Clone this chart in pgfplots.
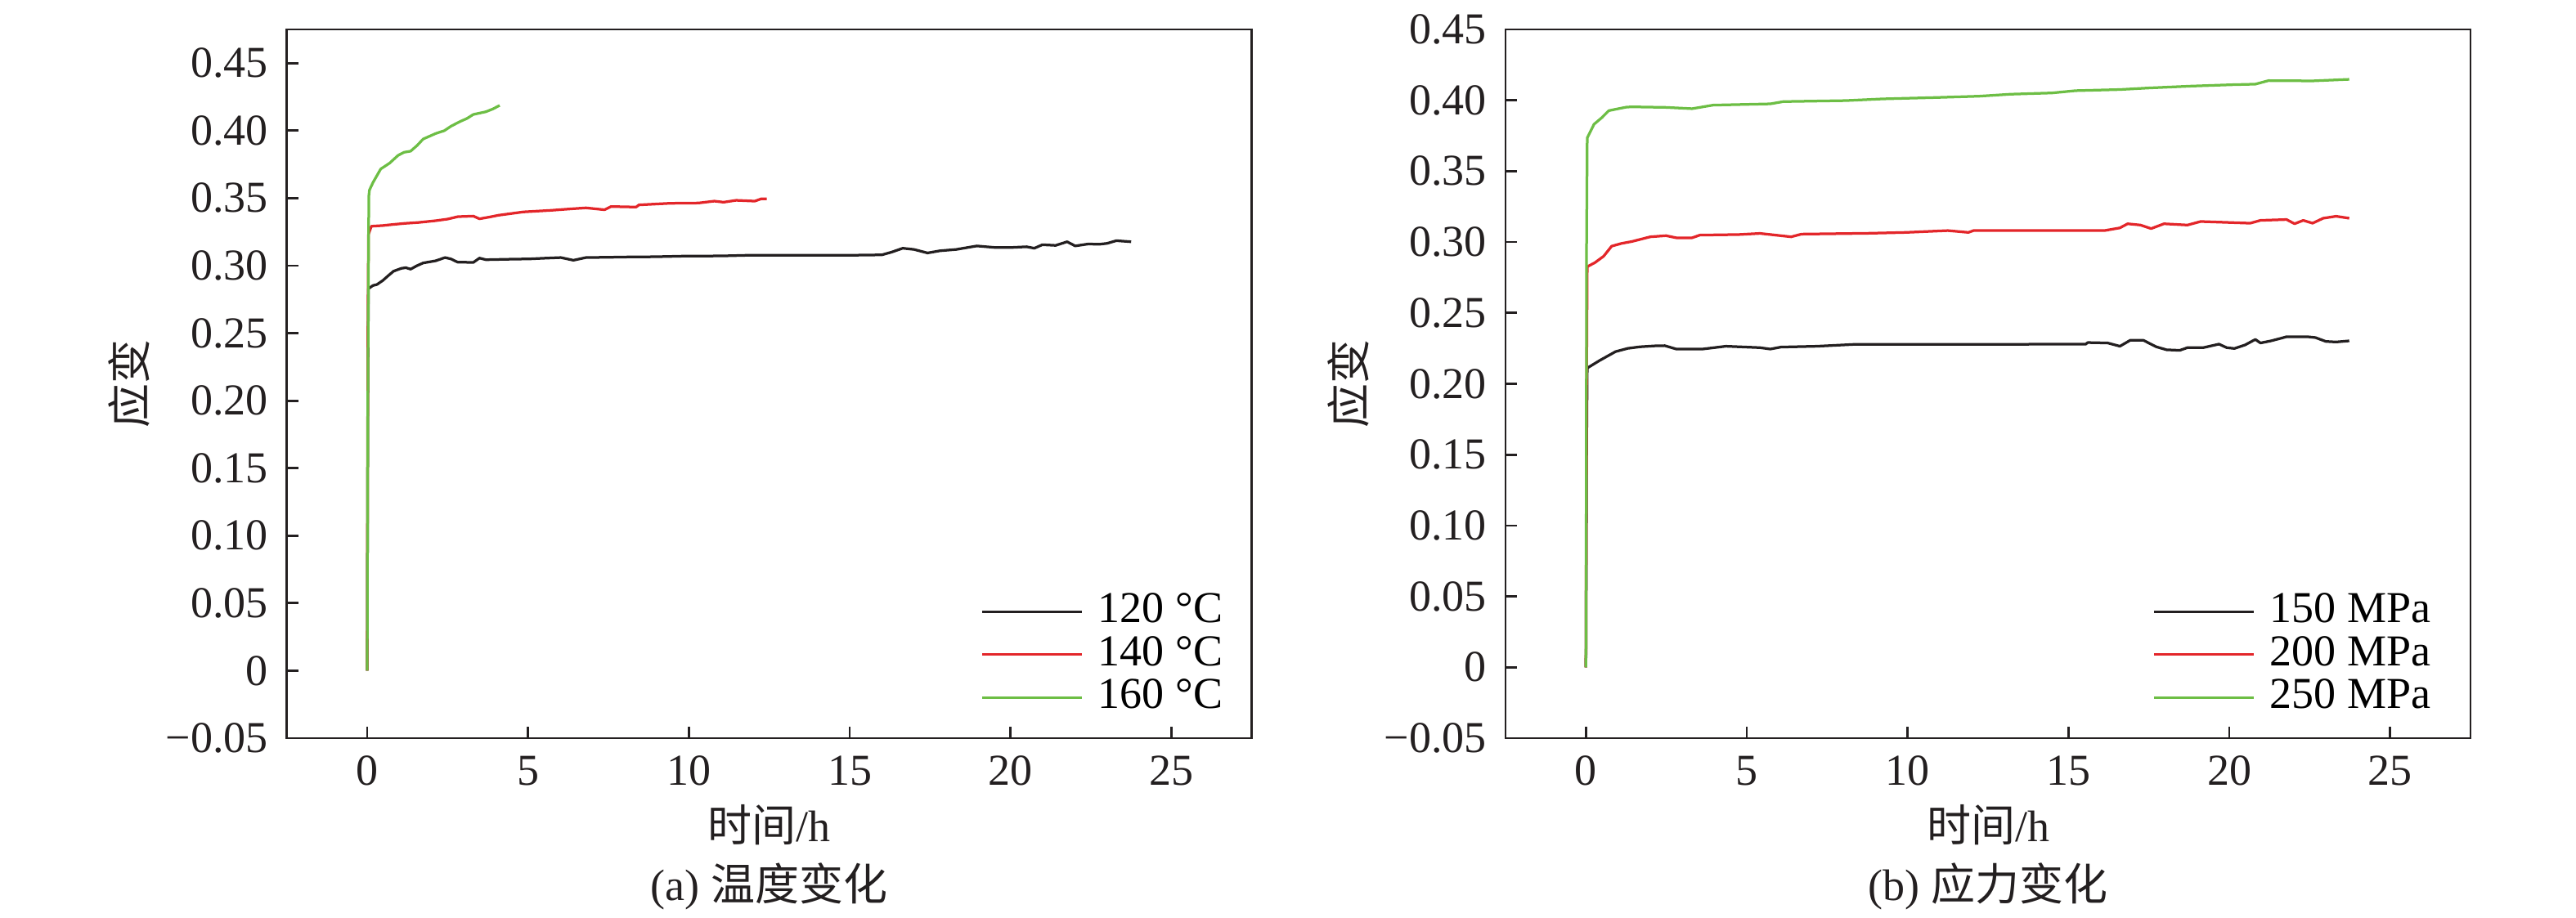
\documentclass[border=0pt]{standalone}
\usepackage{fontspec}
\setmainfont{Liberation Serif}
\newfontfamily\cjk{Noto Sans CJK SC}
\usepackage{pgfplots}
\pgfplotsset{compat=1.18}
\definecolor{cblack}{HTML}{231F20}
\definecolor{cred}{HTML}{E3262A}
\definecolor{cgreen}{HTML}{6DBE45}
\newcommand\fs{\fontsize{10.8}{13}\selectfont}

\pgfplotsset{
  myaxis/.style={
    scale only axis, width=236pt, height=173.4pt,
    xmin=-2.5, xmax=27.5, ymin=-0.05,
    xtick={0,5,10,15,20,25}, xticklabels={0,5,10,15,20,25},
    ytick={-0.05,0,0.05,0.10,0.15,0.20,0.25,0.30,0.35,0.40,0.45},
    yticklabels={−0.05,0,0.05,0.10,0.15,0.20,0.25,0.30,0.35,0.40,0.45},
    tick align=inside, tick pos=left, major tick length=2.8pt,
    axis line style={line width=0.55pt, cblack},
    every tick/.style={line width=0.55pt, cblack},
    tick label style={font=\fs, text=cblack},
    yticklabel style={xshift=-1.1pt},
    xticklabel style={yshift=-0.8pt},
    label style={font=\fs, text=cblack},
    xlabel={{\cjk 时间}/h},
    xlabel style={at={([yshift=-25.4pt]axis description cs:0.5,0)}, anchor=base},
    ylabel={\cjk 应变},
    ylabel style={at={([xshift=-38.5pt]axis description cs:0,0.5)}, anchor=center},
    legend cell align=left,
    legend style={draw=none, fill=none, inner sep=0pt, outer sep=0pt,
      anchor=north west, font=\fs, row sep=0.5pt, column sep=3.6pt,
      nodes={inner sep=0pt, outer sep=0pt, text height=7.7pt, text depth=2.3pt}},
    legend image code/.code={\draw[##1, line width=0.6pt] (0pt,0pt) -- (24.4pt,0pt);},
    every axis plot/.append style={line width=0.65pt, line join=round},
  }
}

\begin{document}
\begin{tikzpicture}
\useasboundingbox (0,0) rectangle (630pt,224.6pt);
\begin{axis}[myaxis, name=a, at={(70.14pt,44pt)}, anchor=south west, ymax=0.475,
  legend style={at={(0.7197,0.2075)}}]
\addplot[cblack] table {
0 0
0.02 0.20
0.04 0.283
0.18 0.2853
0.30 0.2860
0.48 0.2889
0.65 0.2925
0.82 0.2959
1.06 0.2980
1.20 0.2985
1.35 0.2974
1.55 0.3000
1.74 0.3020
2.13 0.3036
2.42 0.3060
2.60 0.3050
2.81 0.3026
3.30 0.3024
3.49 0.3056
3.69 0.3044
4.5 0.3048
5.05 0.3050
5.5 0.3055
6.02 0.3060
6.41 0.3040
6.80 0.3060
7.5 0.3062
7.97 0.3064
8.94 0.3066
9.91 0.3071
11.0 0.3072
11.86 0.3077
13.49 0.3077
15.0 0.3077
16.0 0.3080
16.3 0.3100
16.65 0.3129
17.0 0.3120
17.42 0.3094
17.8 0.3110
18.31 0.3120
18.95 0.3146
19.5 0.3135
19.97 0.3134
20.5 0.3140
20.74 0.3129
20.99 0.3155
21.4 0.3150
21.76 0.3177
22.01 0.3146
22.4 0.3160
22.78 0.3159
23.0 0.3165
23.29 0.3185
23.75 0.3177
};
\addplot[cred] table {
0 0
0.02 0.25
0.04 0.3232
0.13 0.3292
0.48 0.3297
0.8 0.3305
1.16 0.3313
1.6 0.3320
2.13 0.3333
2.5 0.3345
2.82 0.3363
3.30 0.3367
3.49 0.3347
3.8 0.3360
4.07 0.3373
4.85 0.3398
5.73 0.3410
6.3 0.3420
6.80 0.3428
7.38 0.3414
7.58 0.3438
8.36 0.3434
8.45 0.3450
9.42 0.3462
10.30 0.3464
10.79 0.3478
11.08 0.3470
11.47 0.3484
12.05 0.3478
12.25 0.3495
12.42 0.3495
};
\addplot[cgreen] table {
0 0
0.02 0.20
0.05 0.3515
0.07 0.3560
0.18 0.3616
0.42 0.3716
0.7 0.3760
0.96 0.3817
1.15 0.3840
1.35 0.3848
1.55 0.3890
1.74 0.3938
2.13 0.3979
2.40 0.4000
2.62 0.4035
2.91 0.4070
3.10 0.4090
3.30 0.4120
3.69 0.4140
3.90 0.4160
4.12 0.4187
};
\legend{120 °C, 140 °C, 160 °C}
\end{axis}
\node[font=\fs, text=cblack, anchor=base] at ([yshift=-39.7pt]a.south) {(a) {\cjk 温度变化}};

\begin{axis}[myaxis, name=b, at={(368.2pt,44pt)}, anchor=south west, ymax=0.45,
  legend style={at={(0.6709,0.2075)}}]
\addplot[cblack] table {
0 0
0.02 0.15
0.04 0.2111
0.43 0.2165
0.92 0.2227
1.30 0.2250
1.68 0.2261
2.17 0.2268
2.45 0.2269
2.81 0.2245
3.62 0.2245
4.35 0.2265
5.41 0.2255
5.73 0.2245
6.06 0.2259
7.19 0.2265
8.33 0.2278
13.35 0.2278
14.16 0.2280
15.54 0.2280
15.6 0.2291
16.22 0.2288
16.60 0.2265
16.92 0.2307
17.33 0.2307
17.73 0.2261
18.05 0.2240
18.46 0.2236
18.70 0.2255
19.19 0.2255
19.68 0.2280
19.92 0.2255
20.16 0.2249
20.49 0.2274
20.81 0.2313
20.97 0.2288
21.30 0.2303
21.62 0.2322
21.78 0.2332
22.43 0.2332
22.68 0.2326
23.00 0.2299
23.32 0.2295
23.73 0.2303
};
\addplot[cred] table {
0 0
0.02 0.20
0.04 0.2826
0.28 0.2855
0.55 0.2900
0.80 0.2971
1.10 0.2990
1.43 0.3004
2.0 0.3037
2.49 0.3045
2.81 0.3030
3.30 0.3030
3.54 0.3049
4.76 0.3053
5.41 0.3061
6.38 0.3037
6.70 0.3056
8.81 0.3062
9.95 0.3068
11.25 0.3081
11.89 0.3068
12.05 0.3081
16.12 0.3081
16.60 0.3100
16.84 0.3129
17.24 0.3120
17.57 0.3095
17.97 0.3129
18.70 0.3120
19.11 0.3145
20.65 0.3133
20.97 0.3153
21.78 0.3159
22.03 0.3129
22.30 0.3153
22.59 0.3133
22.92 0.3168
23.32 0.3182
23.73 0.3168
};
\addplot[cgreen] table {
0 0
0.02 0.30
0.04 0.3735
0.25 0.3831
0.50 0.3879
0.71 0.3927
1.01 0.3941
1.26 0.3952
1.43 0.3954
2.5 0.3950
3.30 0.3941
3.95 0.3966
5.73 0.3975
6.14 0.3991
8.08 0.3998
9.22 0.4010
10.92 0.4020
12.22 0.4029
13.19 0.4043
14.49 0.4052
15.22 0.4068
16.6 0.4076
17.49 0.4087
18.79 0.4100
20.08 0.4110
20.81 0.4114
21.22 0.4139
22.59 0.4137
23.73 0.4148
};
\legend{150 MPa, 200 MPa, 250 MPa}
\end{axis}
\node[font=\fs, text=cblack, anchor=base] at ([yshift=-39.7pt]b.south) {(b) {\cjk 应力变化}};
\end{tikzpicture}
\end{document}
